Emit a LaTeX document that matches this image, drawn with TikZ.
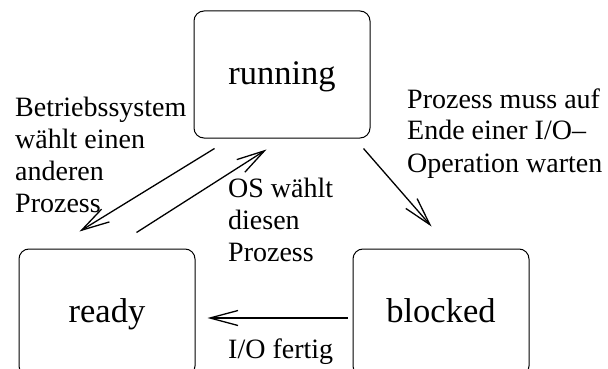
\documentclass[tikz,border=0pt]{standalone}
\usepackage{fontspec}
\setmainfont{Liberation Serif}
\usetikzlibrary{arrows.meta}
\begin{document}
\begin{tikzpicture}[x=1pt,y=-1pt,
  state/.style={draw, line width=1pt, rounded corners=10pt, minimum width=176pt, minimum height=127pt, inner sep=0pt, font=\fontsize{34.5}{40}\selectfont, text height=24pt, text depth=4pt},
  lbl/.style={anchor=base west, inner sep=0pt, font=\fontsize{28}{32}\selectfont},
  trans/.style={line width=1.3pt, -{Straight Barb[length=28pt,width=15pt]}}]
\useasboundingbox (0,0) rectangle (608,369);
\clip (0,0) rectangle (608,369);
\node[state] (running) at (282,74.5) {running};
\node[state] (ready) at (107,312.5) {ready};
\node[state] (blocked) at (441,312.5) {blocked};
\coordinate (a1s) at ([shift={(21,10)}]running.south west);
\coordinate (a1e) at ([shift={(61,-17)}]ready.north west);
\coordinate (a2s) at ([shift={(118,-16)}]ready.north west);
\coordinate (a2e) at ([shift={(73,11)}]running.south west);
\coordinate (a3s) at ([shift={(-7,10)}]running.south east);
\coordinate (a3e) at ([shift={(79,-22)}]blocked.north west);
\coordinate (a4s) at ([shift={(-5,5.5)}]blocked.west);
\coordinate (a4e) at ([shift={(12,5.5)}]ready.east);
\draw[trans] (a1s) -- (a1e);
\draw[trans] (a2s) -- (a2e);
\draw[trans] (a3s) -- (a3e);
\draw[trans] (a4s) -- (a4e);
\node[lbl] (l1) at (15,117) {\begin{tabular}[t]{@{}l@{}}Betriebssystem\\wählt einen\\anderen\\Prozess\end{tabular}};
\node[lbl] (l2) at (228,197) {\begin{tabular}[t]{@{}l@{}}OS wählt\\diesen\\Prozess\end{tabular}};
\node[lbl] (l3) at (407,108) {\begin{tabular}[t]{@{}l@{}}Prozess muss auf\\Ende einer I/O–\\Operation warten\end{tabular}};
\node[lbl] (l4) at (228,358) {I/O fertig};
\end{tikzpicture}
\end{document}
